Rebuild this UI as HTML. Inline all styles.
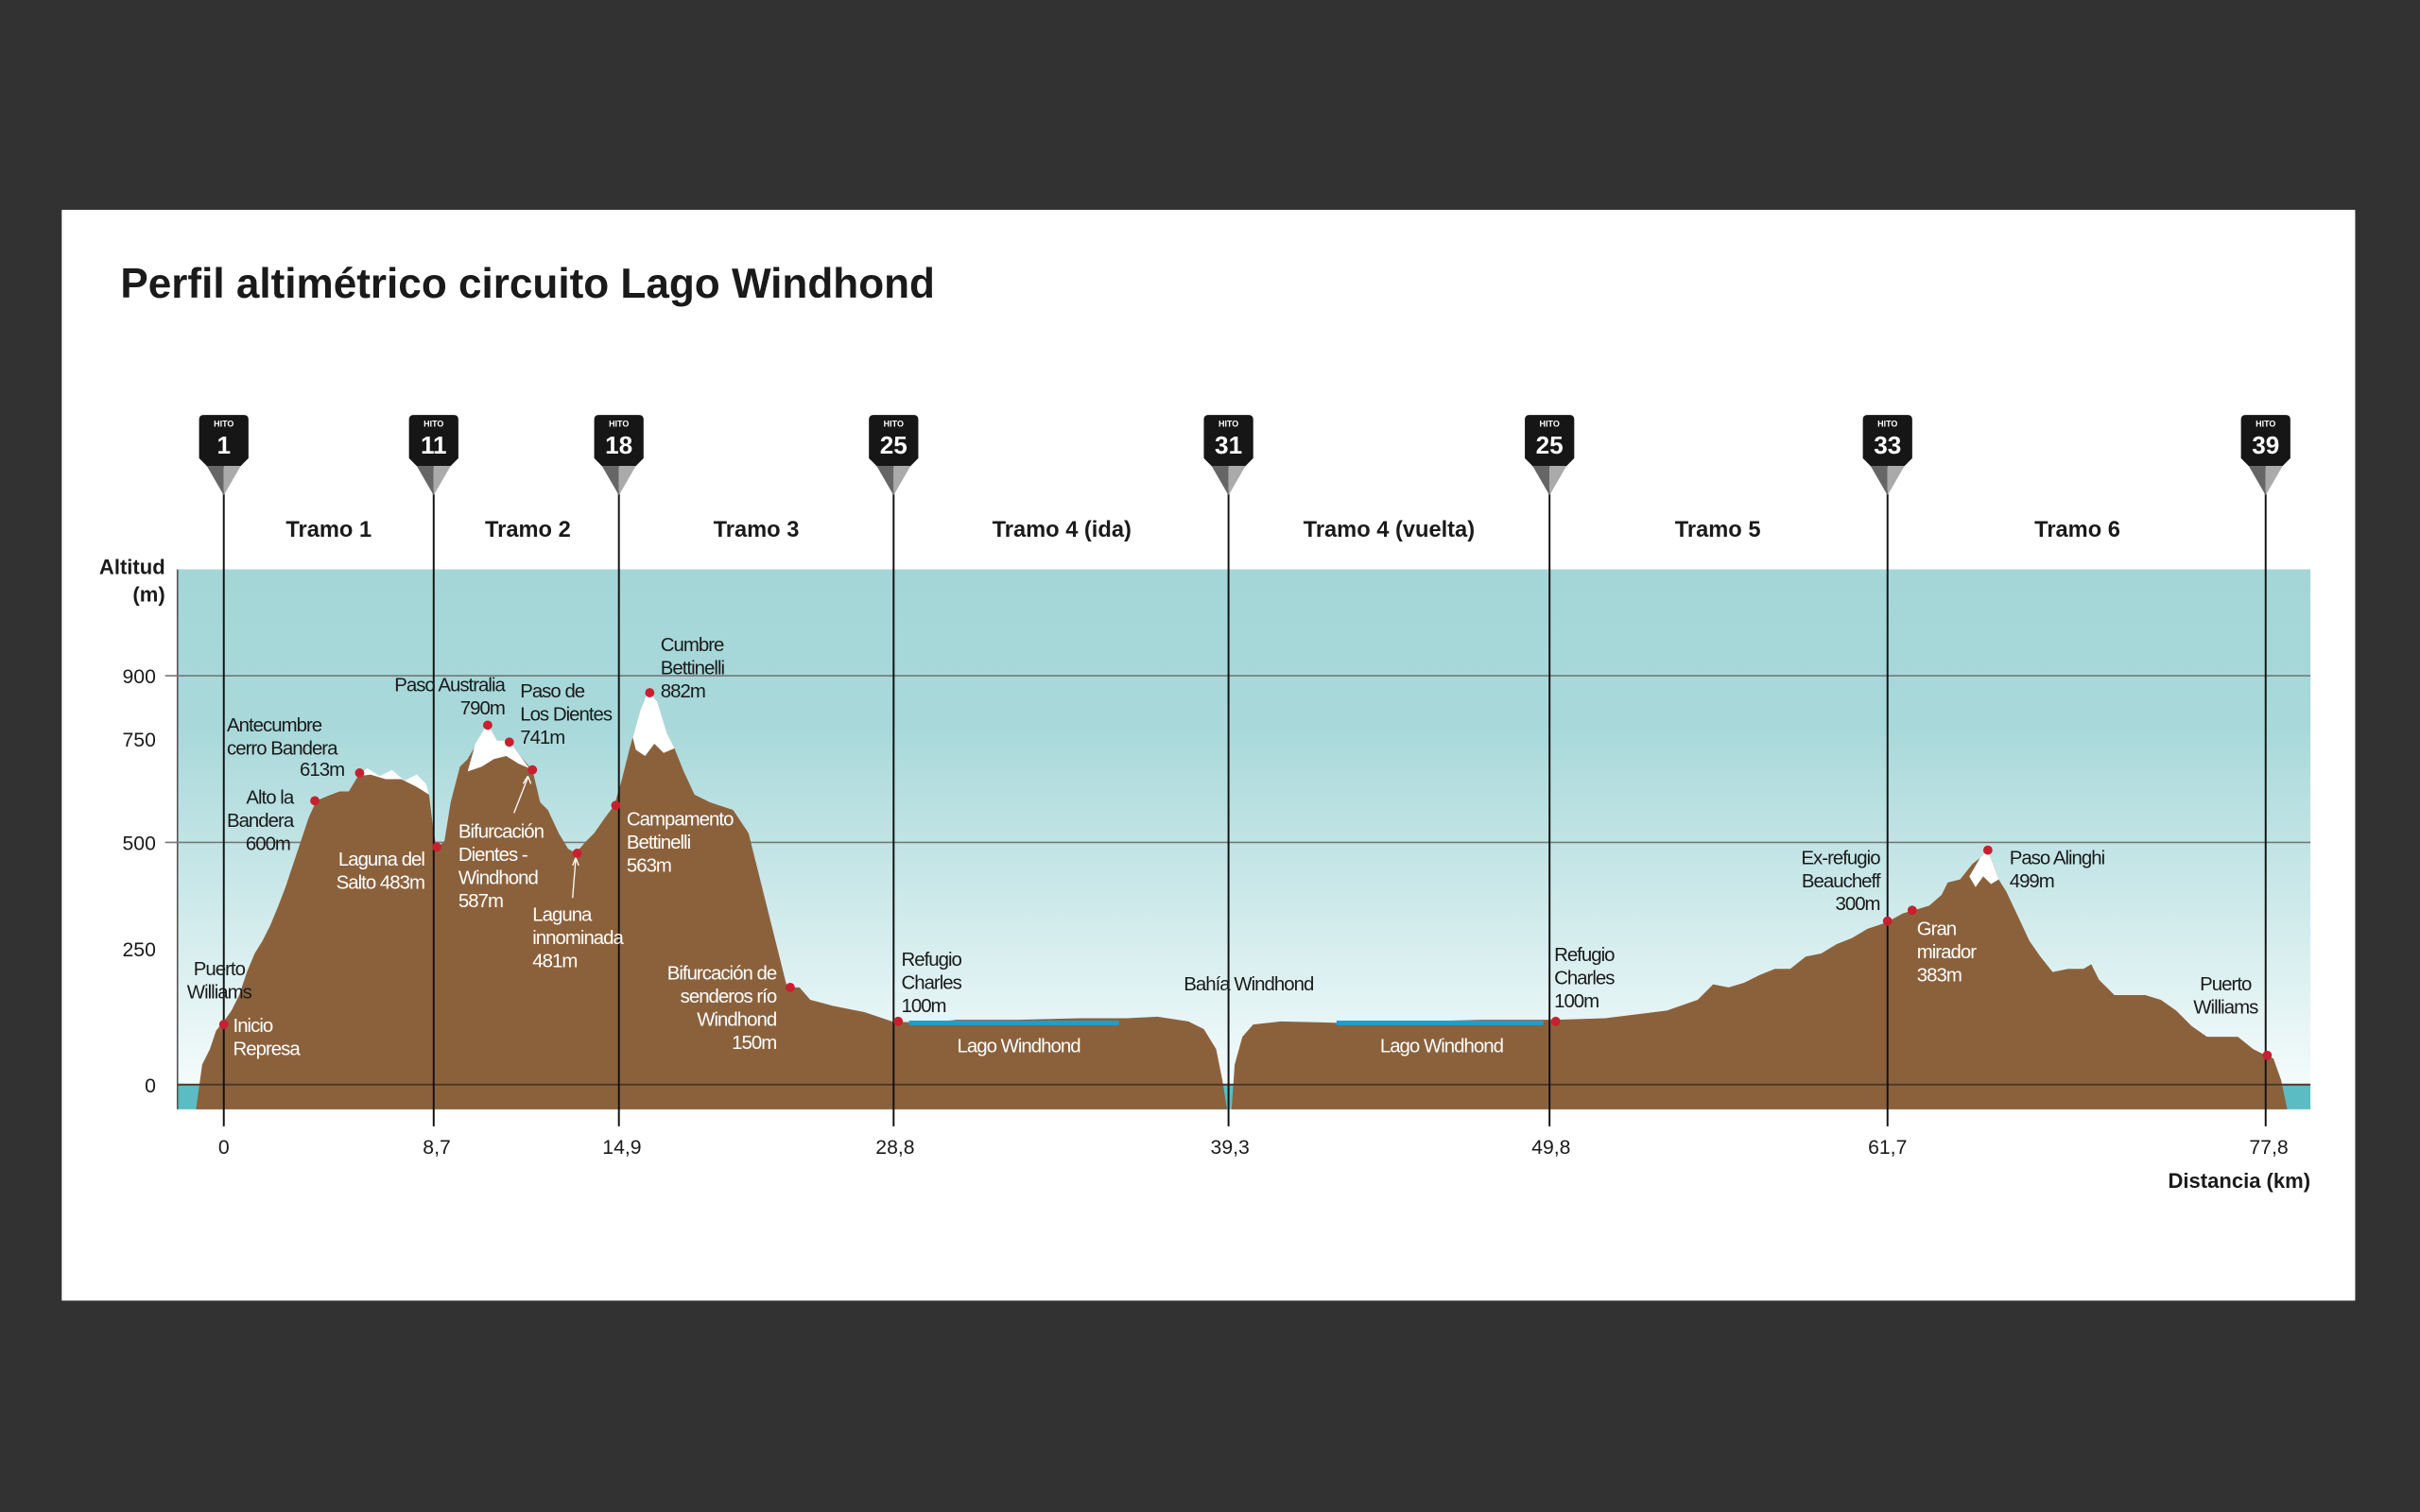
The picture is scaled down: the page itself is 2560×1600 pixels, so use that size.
<!DOCTYPE html>
<html><head><meta charset="utf-8"><style>
html,body{margin:0;padding:0;background:#323232;}
svg{display:block;}
text{font-family:"Liberation Sans",sans-serif;}
.l{font-size:12.5px;fill:#1a1a1a;letter-spacing:-0.6px;}
.w{font-size:12.5px;fill:#fff;letter-spacing:-0.6px;}
.t{font-size:14.5px;font-weight:bold;fill:#1a1a1a;}
.ax{font-size:13px;fill:#1a1a1a;}
</style></head><body>
<svg width="2560" height="1600" viewBox="0 0 1568 980" xmlns="http://www.w3.org/2000/svg">
<defs>
<linearGradient id="sky" x1="0" y1="0" x2="0" y2="1">
<stop offset="0" stop-color="#a4d6d8"/><stop offset="0.3" stop-color="#a8d8da"/><stop offset="1" stop-color="#f4fbfb"/>
</linearGradient>
<g id="mk"><path d="M-16,272 Q-16,269 -13,269 L13,269 Q16,269 16,272 L16,297 L10,303 L-10,303 L-16,297 Z" fill="#161616"/><path d="M-11,302 L0,321 0,302Z" fill="#666"/><path d="M11,302 L0,321 0,302Z" fill="#aaa"/><text x="0" y="276.5" text-anchor="middle" style="font-size:5.5px;font-weight:bold;fill:#fff">HITO</text></g>
</defs>
<rect x="0" y="0" width="1568" height="980" fill="#323232"/>
<rect x="40" y="136" width="1486" height="707" fill="#fff"/>
<text x="78" y="193" style="font-size:27px;font-weight:bold;fill:#1a1a1a;">Perfil altimétrico circuito Lago Windhond</text>

<rect x="115" y="369" width="1382" height="334" fill="url(#sky)"/>
<rect x="115" y="703" width="1382" height="16" fill="#5bbcc4"/>
<line x1="115" y1="369" x2="115" y2="719" stroke="#555" stroke-width="1"/>
<line x1="107" y1="438" x2="1497" y2="438" stroke="#777" stroke-width="1"/>
<line x1="107" y1="546" x2="1497" y2="546" stroke="#777" stroke-width="1"/>

<path fill="#8b613c" d="M127,719 L131,690 136,680 140,668 145,662 150,655 155,645 160,630 165,618 170,610 175,600 180,588 185,575 190,560 195,545 200,530 205,519 212,516 220,513 226,513 232,503 240,502 250,505 260,505 270,510 278,515 281,540 283,550 288,545 292,520 298,497 303,492 310,480 316,469 322,480 330,480 337,490 345,499 350,520 355,525 362,540 368,550 373,553 380,545 385,540 392,530 398,522 403,505 408,485 415,460 420,448 426,455 432,475 437,485 443,500 450,515 460,520 475,525 485,540 490,560 495,580 500,600 505,620 510,640 518,640 525,648 540,652 560,656 578,662 600,663 620,661 660,661 700,660 730,660 750,659 770,662 780,667 788,680 792,700 795,719 798,719 800,690 805,672 812,664 830,662 870,663 920,662 960,661 1008,661 1040,660 1080,655 1100,648 1110,638 1120,640 1130,637 1140,632 1150,628 1160,628 1170,620 1180,618 1190,612 1200,608 1210,602 1222,598 1233,592 1240,590 1250,587 1258,580 1262,572 1270,570 1278,560 1283,556 1288,551 1295,570 1300,578 1308,595 1315,610 1322,620 1330,630 1340,628 1350,628 1355,625 1360,635 1370,645 1380,645 1390,645 1400,648 1410,655 1420,665 1430,672 1440,672 1450,672 1460,680 1468,684 1473,686 1478,700 1482,719 Z"/>
<path fill="#fff" d="M228,512 L232,503 240,502 250,505 260,505 270,510 278,515 276,508 270,502 262,506 254,499 246,503 238,498 232,503 Z"/>
<path fill="#fff" d="M303,500 L308,482 316,469 322,480 330,480 337,490 343,498 336,495 328,490 320,492 312,497 Z"/>
<path fill="#fff" d="M410,478 L415,460 420,448 426,455 432,475 437,485 430,488 424,482 418,490 412,486 Z"/>
<path fill="#fff" d="M1276,568 L1283,556 1288,551 1295,570 1290,573 1285,568 1280,575 Z"/>

<line x1="115" y1="703" x2="1497" y2="703" stroke="#4a3a2a" stroke-width="1.2"/>
<line x1="589" y1="663" x2="725" y2="663" stroke="#1a9fd0" stroke-width="3"/>
<line x1="866" y1="663" x2="1000" y2="663" stroke="#1a9fd0" stroke-width="3"/>

<g class="ax" text-anchor="end">
<text x="101" y="443">900</text><text x="101" y="484">750</text><text x="101" y="551">500</text><text x="101" y="620">250</text><text x="101" y="708">0</text>
</g>
<text x="107" y="372" text-anchor="end" class="t" style="font-size:13.5px">Altitud</text>
<text x="107" y="390" text-anchor="end" class="t" style="font-size:13.5px">(m)</text>

<g stroke="#111" stroke-width="1.2">
<line x1="145" y1="318" x2="145" y2="730"/><line x1="281" y1="318" x2="281" y2="730"/><line x1="401" y1="318" x2="401" y2="730"/><line x1="579" y1="318" x2="579" y2="730"/><line x1="796" y1="318" x2="796" y2="730"/><line x1="1004" y1="318" x2="1004" y2="730"/><line x1="1223" y1="318" x2="1223" y2="730"/><line x1="1468" y1="318" x2="1468" y2="730"/>
</g>
<g style="font-size:16px;font-weight:bold;fill:#fff" text-anchor="middle">
<use href="#mk" x="145"/><text x="145" y="294">1</text>
<use href="#mk" x="281"/><text x="281" y="294">11</text>
<use href="#mk" x="401"/><text x="401" y="294">18</text>
<use href="#mk" x="579"/><text x="579" y="294">25</text>
<use href="#mk" x="796"/><text x="796" y="294">31</text>
<use href="#mk" x="1004"/><text x="1004" y="294">25</text>
<use href="#mk" x="1223"/><text x="1223" y="294">33</text>
<use href="#mk" x="1468"/><text x="1468" y="294">39</text>
</g>

<g class="t" text-anchor="middle">
<text x="213" y="348">Tramo 1</text><text x="342" y="348">Tramo 2</text><text x="490" y="348">Tramo 3</text><text x="688" y="348">Tramo 4 (ida)</text><text x="900" y="348">Tramo 4 (vuelta)</text><text x="1113" y="348">Tramo 5</text><text x="1346" y="348">Tramo 6</text>
</g>

<g class="ax" text-anchor="middle">
<text x="145" y="748">0</text><text x="283" y="748">8,7</text><text x="403" y="748">14,9</text><text x="580" y="748">28,8</text><text x="797" y="748">39,3</text><text x="1005" y="748">49,8</text><text x="1223" y="748">61,7</text><text x="1470" y="748">77,8</text>
</g>
<text x="1497" y="770" text-anchor="end" class="t" style="font-size:13.5px">Distancia (km)</text>

<g fill="#c8202f">
<circle cx="145" cy="664" r="3"/><circle cx="204" cy="519" r="3"/><circle cx="233" cy="501" r="3"/><circle cx="283" cy="549" r="3"/><circle cx="316" cy="470" r="3"/><circle cx="330" cy="481" r="3"/><circle cx="345" cy="499" r="3"/><circle cx="374" cy="553" r="3"/><circle cx="399" cy="522" r="3"/><circle cx="421" cy="449" r="3"/><circle cx="512" cy="640" r="3"/><circle cx="582" cy="662" r="3"/><circle cx="1008" cy="662" r="3"/><circle cx="1223" cy="597" r="3"/><circle cx="1239" cy="590" r="3"/><circle cx="1288" cy="551" r="3"/><circle cx="1469" cy="684" r="3"/>
</g>
<line x1="333" y1="527" x2="342" y2="504" stroke="#fff" stroke-width="0.8"/>
<path d="M342,503 L339,508 M342,503 L344,508" stroke="#fff" stroke-width="0.8"/>
<line x1="371" y1="582" x2="373" y2="557" stroke="#fff" stroke-width="0.8"/>
<path d="M373,556 L371,561 M373,556 L375,561" stroke="#fff" stroke-width="0.8"/>

<g class="l">
<text x="142" y="632" text-anchor="middle">Puerto</text><text x="142" y="647" text-anchor="middle">Williams</text>
<text x="190" y="521" text-anchor="end">Alto la</text><text x="190" y="536" text-anchor="end">Bandera</text><text x="188" y="551" text-anchor="end">600m</text>
<text x="147" y="474">Antecumbre</text><text x="147" y="489">cerro Bandera</text><text x="223" y="503" text-anchor="end">613m</text>
<text x="327" y="448" text-anchor="end">Paso Australia</text><text x="327" y="463" text-anchor="end">790m</text>
<text x="337" y="452">Paso de</text><text x="337" y="467">Los Dientes</text><text x="337" y="482">741m</text>
<text x="428" y="422">Cumbre</text><text x="428" y="437">Bettinelli</text><text x="428" y="452">882m</text>
<text x="584" y="626">Refugio</text><text x="584" y="641">Charles</text><text x="584" y="656">100m</text>
<text x="809" y="642" text-anchor="middle">Bahía Windhond</text>
<text x="1007" y="623">Refugio</text><text x="1007" y="638">Charles</text><text x="1007" y="653">100m</text>
<text x="1218" y="560" text-anchor="end">Ex-refugio</text><text x="1218" y="575" text-anchor="end">Beaucheff</text><text x="1218" y="590" text-anchor="end">300m</text>
<text x="1302" y="560">Paso Alinghi</text><text x="1302" y="575">499m</text>
<text x="1442" y="642" text-anchor="middle">Puerto</text><text x="1442" y="657" text-anchor="middle">Williams</text>
</g>
<g class="w">
<text x="151" y="669">Inicio</text><text x="151" y="684">Represa</text>
<text x="275" y="561" text-anchor="end">Laguna del</text><text x="275" y="576" text-anchor="end">Salto 483m</text>
<text x="297" y="543">Bifurcación</text><text x="297" y="558">Dientes -</text><text x="297" y="573">Windhond</text><text x="297" y="588">587m</text>
<text x="345" y="597">Laguna</text><text x="345" y="612">innominada</text><text x="345" y="627">481m</text>
<text x="406" y="535">Campamento</text><text x="406" y="550">Bettinelli</text><text x="406" y="565">563m</text>
<text x="503" y="635" text-anchor="end">Bifurcación de</text><text x="503" y="650" text-anchor="end">senderos río</text><text x="503" y="665" text-anchor="end">Windhond</text><text x="503" y="680" text-anchor="end">150m</text>
<text x="660" y="682" text-anchor="middle">Lago Windhond</text>
<text x="934" y="682" text-anchor="middle">Lago Windhond</text>
<text x="1242" y="606">Gran</text><text x="1242" y="621">mirador</text><text x="1242" y="636">383m</text>
</g>
</svg>
</body></html>
